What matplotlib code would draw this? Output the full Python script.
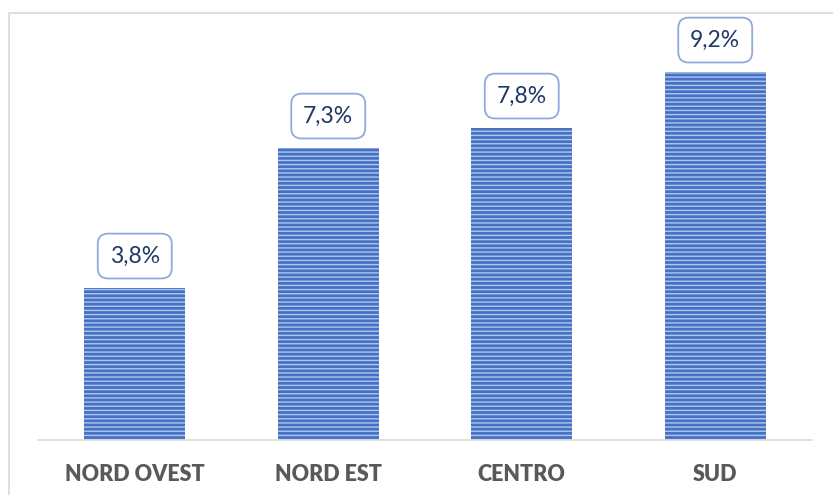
import matplotlib.pyplot as plt
from matplotlib.patches import Rectangle

# data
categories = ["NORD OVEST", "NORD EST", "CENTRO", "SUD"]
values = [3.8, 7.3, 7.8, 9.2]
labels = ["3,8%", "7,3%", "7,8%", "9,2%"]

plt.rcParams['font.family'] = ['Lato', 'DejaVu Sans']
plt.rcParams['hatch.linewidth'] = 1.0

fig = plt.figure(figsize=(8.33, 4.95), dpi=100)
ax = fig.add_axes([38/833, 1-440/495, (812-38)/833, 400/495])

x = range(len(categories))
ax.bar(x, values, width=0.52, color='#4672C6', edgecolor='#B3C6EC',
       linewidth=0, hatch='----')

# value labels in rounded boxes
for i, v in enumerate(values):
    ax.annotate(labels[i], (i, v), xytext=(0, 23), textcoords='offset points',
                ha='center', va='center', fontsize=16.5, color='#203864',
                bbox=dict(boxstyle='round,pad=0.52,rounding_size=0.45',
                          fc='white', ec='#8FAADC', lw=1.3))

ax.set_xlim(-0.5, 3.5)
ax.set_ylim(0, 10)
ax.set_xticks(list(x))
ax.set_xticklabels(categories, fontsize=15.5, fontweight='heavy', color='#595959')
ax.tick_params(axis='x', length=0, pad=17)
ax.set_yticks([])
for s in ['top', 'right', 'left']:
    ax.spines[s].set_visible(False)
ax.spines['bottom'].set_color('#D9D9D9')
ax.spines['bottom'].set_linewidth(1.2)

# outer chart border (partly cut off at right and bottom)
fig.patches.append(Rectangle((8.5/833, -0.1), 1.2, 1 - 12.5/495 + 0.1,
                             transform=fig.transFigure, fill=False,
                             ec='#D9D9D9', lw=1.2, clip_on=False))

fig.savefig('out.png', dpi=100)
